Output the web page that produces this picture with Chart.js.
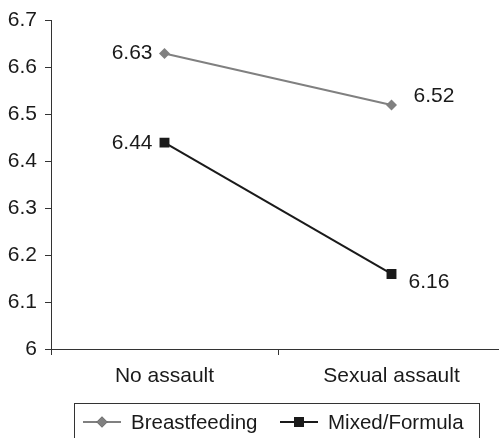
<!DOCTYPE html>
<html>
<head>
<meta charset="utf-8">
<script src="https://cdn.jsdelivr.net/npm/chart.js@4"></script>
<style>
  html, body { margin: 0; padding: 0; background: #fff; overflow: hidden; width: 499px; height: 438px; }
  canvas { display: block; }
</style>
</head>
<body>
<!-- canvas a little wider than the window so the x axis runs off the right edge -->
<canvas id="myChart" width="505" height="438"></canvas>
<script>
const categories = ['No assault', 'Sexual assault'];
const breastfeeding = [6.63, 6.52];
const mixedFormula = [6.44, 6.16];
const yTicks = [6, 6.1, 6.2, 6.3, 6.4, 6.5, 6.6, 6.7];

const FONT = '"Liberation Sans", Arial, sans-serif';
const TEXT = '#1a1a1a';

// value labels beside each point: [dx, dy, align]
const labelPlace = [
  [[-12, -1, 'right'], [22, -10, 'left']],
  [[-12, 0, 'right'], [17, 7, 'left']]
];

const valueLabels = {
  id: 'valueLabels',
  afterDatasetsDraw(chart) {
    const c = chart.ctx;
    c.save();
    c.font = '21px ' + FONT;
    c.fillStyle = TEXT;
    c.textBaseline = 'middle';
    chart.data.datasets.forEach((ds, di) => {
      chart.getDatasetMeta(di).data.forEach((pt, i) => {
        const p = labelPlace[di][i];
        c.textAlign = p[2];
        c.fillText(ds.data[i].toFixed(2), pt.x + p[0], pt.y + p[1] + 1);
      });
    });
    c.restore();
  }
};

const boxLegend = {
  id: 'boxLegend',
  afterDraw(chart) {
    const c = chart.ctx;
    c.save();
    c.strokeStyle = '#333';
    c.lineWidth = 1;
    c.strokeRect(74.5, 403.5, 405, 60);
    c.font = '20.5px ' + FONT;
    c.fillStyle = TEXT;
    c.textBaseline = 'middle';
    c.textAlign = 'left';
    const items = [[83, 131], [280, 328]];
    chart.data.datasets.forEach((ds, i) => {
      const [lx, tx] = items[i];
      const y = 422;
      c.strokeStyle = ds.borderColor;
      c.lineWidth = 2;
      c.beginPath();
      c.moveTo(lx, y);
      c.lineTo(lx + 38, y);
      c.stroke();
      Chart.helpers.drawPoint(c, {
        pointStyle: ds.pointStyle,
        radius: ds.pointRadius,
        borderWidth: 0
      }, lx + 19, y);
      c.fillStyle = ds.pointBackgroundColor;
      c.fill();
      c.fillStyle = TEXT;
      c.fillText(ds.label, tx, y + 1);
    });
    c.restore();
  }
};

new Chart(document.getElementById('myChart'), {
  type: 'line',
  data: {
    labels: categories,
    datasets: [{
      label: 'Breastfeeding',
      data: breastfeeding,
      borderColor: '#808080',
      backgroundColor: '#808080',
      pointBackgroundColor: '#808080',
      pointBorderColor: '#808080',
      pointStyle: 'rectRot',
      pointRadius: 5.5,
      pointBorderWidth: 0,
      borderWidth: 2
    }, {
      label: 'Mixed/Formula',
      data: mixedFormula,
      borderColor: '#1a1a1a',
      backgroundColor: '#1a1a1a',
      pointBackgroundColor: '#1a1a1a',
      pointBorderColor: '#1a1a1a',
      pointStyle: 'rect',
      pointRadius: 7,
      pointBorderWidth: 0,
      borderWidth: 2
    }]
  },
  options: {
    responsive: false,
    animation: false,
    layout: { autoPadding: false, padding: { top: 18, right: 0, bottom: 41, left: 0 } },
    plugins: { legend: { display: false }, tooltip: { enabled: false } },
    scales: {
      x: {
        offset: true,
        grid: { drawOnChartArea: false, offset: true, tickLength: 6, color: '#333' },
        border: { color: '#333', width: 1 },
        ticks: { color: TEXT, font: { family: FONT, size: 21 }, padding: 9 },
        afterFit(s) { s.height = 48; s.paddingLeft = 0; s.paddingRight = 0; }
      },
      y: {
        min: 6,
        max: 6.7,
        afterBuildTicks(s) { s.ticks = yTicks.map(v => ({ value: v })); },
        grid: { drawOnChartArea: false, tickLength: 6, color: '#333' },
        border: { color: '#333', width: 1 },
        ticks: {
          color: TEXT,
          font: { family: FONT, size: 21 },
          padding: 8,
          callback: v => String(+(+v).toFixed(1))
        },
        afterFit(s) { s.width = 51; }
      }
    }
  },
  plugins: [valueLabels, boxLegend]
});
</script>
</body>
</html>
